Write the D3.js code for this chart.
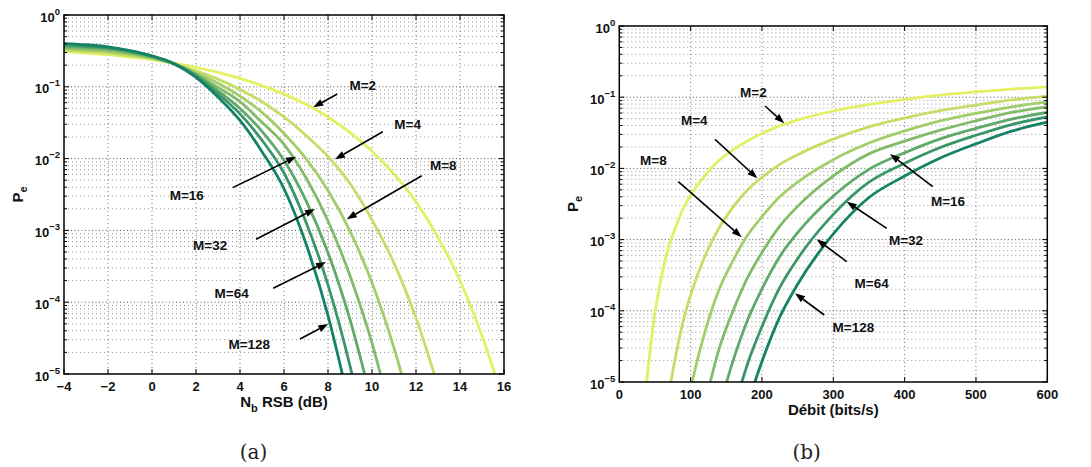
<!DOCTYPE html>
<html>
<head>
<meta charset="utf-8">
<script src="https://cdn.jsdelivr.net/npm/d3@7/dist/d3.min.js"></script>
<style>
body{margin:0;background:#fff;}
svg{display:block;}
</style>
</head>
<body>
<svg id="chart" width="1091" height="467"></svg>
<script>
// ---------------- data ----------------
const seriesNames = ["M=2","M=4","M=8","M=16","M=32","M=64","M=128"];
const seriesColors = ["#e4f064","#c4de68","#a3cd6a","#82bb6a","#5fa969","#3a9668","#138266"];

// (a) Pe vs Nb RSB (dB)
const snrDb = [-4,-3,-2,-1,0,1,2,3,4,5,6,7,8,9,10,11,12,13,14,15,16];
const snrPeM2   = [0.31,0.295,0.28,0.26,0.24,0.214,0.187,0.159,0.131,0.104,0.079,0.057,0.038,0.023,0.0127,0.0061,0.0025,8.0e-4,2.0e-4,3.4e-5,4.0e-6];
const snrPeM4   = [0.325,0.31,0.295,0.272,0.246,0.207,0.167,0.128,0.092,0.062,0.038,0.021,0.0107,0.0045,0.0014,3.5e-4,6.0e-5,6.8e-6];
const snrPeM8   = [0.34,0.325,0.31,0.285,0.252,0.209,0.157,0.112,0.074,0.044,0.0224,0.010,0.0036,9.8e-4,1.86e-4,2.3e-5,1.8e-6];
const snrPeM16  = [0.355,0.34,0.325,0.295,0.257,0.21,0.15,0.098,0.062,0.032,0.0158,0.0054,1.35e-3,2.34e-4,2.7e-5,1.8e-6];
const snrPeM32  = [0.37,0.355,0.34,0.305,0.262,0.211,0.146,0.088,0.05,0.024,0.0095,2.6e-3,4.9e-4,5.7e-5,3.9e-6];
const snrPeM64  = [0.385,0.37,0.35,0.313,0.266,0.21,0.142,0.08,0.042,0.018,0.0063,1.3e-3,1.74e-4,1.3e-5,5.5e-7];
const snrPeM128 = [0.40,0.385,0.36,0.32,0.27,0.21,0.135,0.072,0.034,0.0125,0.0038,6.5e-4,6.5e-5,3.4e-6];

// (b) Pe vs Débit (bits/s)
const bitRate = [30,40,50,60,70,80,90,100,120,140,160,180,200,225,250,300,350,400,450,500,550,600];
const ratePeM2   = [9e-7,1.45e-5,9.3e-5,3.3e-4,8.3e-4,1.6e-3,2.8e-3,4.2e-3,8.0e-3,0.013,0.0184,0.0245,0.031,0.0396,0.0478,0.064,0.0794,0.093,0.1066,0.1186,0.130,0.140];
const ratePeM4   = [null,null,null,1.6e-6,7.3e-6,2.6e-5,7.4e-5,1.67e-4,5.85e-4,1.47e-3,2.9e-3,5.0e-3,7.5e-3,0.0114,0.0156,0.0258,0.0384,0.051,0.0647,0.0776,0.0914,0.1035];
const ratePeM8   = [null,null,null,null,null,null,2.4e-6,7.9e-6,5.0e-5,2.0e-4,5.2e-4,1.16e-3,2.1e-3,4.0e-3,6.4e-3,0.01325,0.0227,0.0336,0.0466,0.0592,0.0731,0.0859];
const ratePeM16  = [null,null,null,null,null,null,null,null,4.9e-6,2.94e-5,1.03e-4,2.94e-4,6.6e-4,1.55e-3,2.93e-3,7.85e-3,0.016,0.0241,0.0344,0.0467,0.0611,0.0731];
const ratePeM32  = [null,null,null,null,null,null,null,null,null,4.3e-6,2.06e-5,7.5e-5,2.03e-4,5.8e-4,1.25e-3,4.1e-3,9.7e-3,0.01656,0.026,0.0365,0.0493,0.0612];
const ratePeM64  = [null,null,null,null,null,null,null,null,null,null,3.9e-6,1.82e-5,6.0e-5,2.13e-4,5.4e-4,2.26e-3,6.4e-3,0.0118,0.0197,0.0292,0.0413,0.053];
const ratePeM128 = [null,null,null,null,null,null,null,null,null,null,null,5.0e-6,1.94e-5,8.2e-5,2.36e-4,1.2e-3,3.9e-3,7.8e-3,0.014,0.0221,0.0333,0.0445];

// ticks
const snrTicks = [-4,-2,0,2,4,6,8,10,12,14,16];
const rateTicks = [0,100,200,300,400,500,600];
const peTicks = [1,0.1,0.01,1e-3,1e-4,1e-5];
const peExponents = ["0","\u22121","\u22122","\u22123","\u22124","\u22125"];

// annotations (label anchor, arrow tail, arrow tip) in data units
const annotSnrText = [[9.58,0.1026],[11.62,0.0303],[13.24,0.00814],[1.58,0.00311],[2.64,6.07e-4],[3.62,1.33e-4],[4.42,2.54e-5]];
const annotSnrTail = [[8.42,0.0794],[10.49,0.0237],[12.26,0.00578],[3.67,0.00394],[4.73,7.52e-4],[5.51,1.56e-4],[6.73,3.07e-5]];
const annotSnrTip  = [[7.33,0.0518],[8.32,0.00977],[8.85,0.00143],[6.55,0.01062],[7.41,1.99e-3],[7.91,3.63e-4],[8.01,4.97e-5]];
const annotRateText = [[187.9,0.1156],[105.1,0.0468],[47.7,0.0131],[460.8,0.00348],[401.9,9.66e-4],[353.8,2.43e-4],[328.1,5.86e-5]];
const annotRateTail = [[204.3,0.0752],[134.2,0.0256],[82.7,0.0065],[439.4,0.00553],[374.9,1.44e-3],[318.8,4.90e-4],[287.4,8.73e-5]];
const annotRateTip  = [[231.3,0.0430],[193.5,0.00726],[171.6,0.00108],[379.5,0.0159],[318.8,3.40e-3],[276.7,1.01e-3],[246.3,1.76e-4]];

// ---------------- drawing ----------------
const SANS = "'Liberation Sans', Arial, Helvetica, sans-serif";
const SERIF = "'DejaVu Serif', 'Liberation Serif', serif";
const svg = d3.select("#chart");
svg.append("rect").attr("width",1091).attr("height",467).attr("fill","#fff");

function drawPanel(o){
  const g = svg.append("g").style("font-family",SANS);
  const x = o.x, y = o.y;
  const [x0,x1] = x.range(); const [y1,y0] = y.range();
  const clipId = o.id + "clip";
  g.append("clipPath").attr("id",clipId).append("rect")
    .attr("x",x0).attr("y",y0).attr("width",x1-x0).attr("height",y1-y0);

  const minor = [];
  for (let e=-5; e<0; e++) for (let k=2;k<=9;k++) minor.push(k*Math.pow(10,e));

  // grid
  const grid = g.append("g");
  minor.forEach(v=>{
    grid.append("line").attr("x1",x0).attr("x2",x1).attr("y1",y(v)).attr("y2",y(v))
      .attr("stroke","#8a8a8a").attr("stroke-width",0.9).attr("stroke-dasharray","1,3");
  });
  peTicks.forEach(v=>{
    if (v===1 || v===1e-5) return;
    grid.append("line").attr("x1",x0).attr("x2",x1).attr("y1",y(v)).attr("y2",y(v))
      .attr("stroke","#555").attr("stroke-width",1).attr("stroke-dasharray","1,2.5");
  });
  o.xTicks.forEach(v=>{
    const px = x(v);
    if (Math.abs(px-x0)<1 || Math.abs(px-x1)<1) return;
    grid.append("line").attr("x1",px).attr("x2",px).attr("y1",y0).attr("y2",y1)
      .attr("stroke","#777").attr("stroke-width",1).attr("stroke-dasharray","1,3");
  });

  // curves
  const line = d3.line().x(d=>x(d[0])).y(d=>y(d[1])).curve(d3.curveMonotoneX);
  const cg = g.append("g").attr("clip-path",`url(#${clipId})`);
  o.series.forEach((vals,i)=>{
    const pts = o.xs.map((xv,j)=>[xv, j<vals.length ? vals[j] : null]).filter(d=>d[1]!=null);
    cg.append("path").datum(pts).attr("d",line).attr("fill","none")
      .attr("stroke",seriesColors[i]).attr("stroke-width",2.8).attr("stroke-linejoin","round");
  });

  // ticks inside, all four sides
  const tk = g.append("g").attr("stroke","#000").attr("stroke-width",1);
  o.xTicks.forEach(v=>{
    const px=x(v);
    tk.append("line").attr("x1",px).attr("x2",px).attr("y1",y1).attr("y2",y1-5);
    tk.append("line").attr("x1",px).attr("x2",px).attr("y1",y0).attr("y2",y0+5);
  });
  peTicks.forEach(v=>{
    const py=y(v);
    tk.append("line").attr("x1",x0).attr("x2",x0+5).attr("y1",py).attr("y2",py);
    tk.append("line").attr("x1",x1).attr("x2",x1-5).attr("y1",py).attr("y2",py);
  });
  minor.forEach(v=>{
    const py=y(v);
    tk.append("line").attr("x1",x0).attr("x2",x0+3).attr("y1",py).attr("y2",py);
    tk.append("line").attr("x1",x1).attr("x2",x1-3).attr("y1",py).attr("y2",py);
  });

  // box
  g.append("rect").attr("x",x0).attr("y",y0).attr("width",x1-x0).attr("height",y1-y0)
    .attr("fill","none").attr("stroke","#000").attr("stroke-width",1.5);

  // tick labels
  o.xTicks.forEach(v=>{
    g.append("text").attr("x",x(v)).attr("y",y1+16.5).attr("text-anchor","middle")
      .attr("font-size",13).attr("font-weight","bold").attr("fill","#111")
      .text(String(v).replace("-","\u2212"));
  });
  peTicks.forEach((v,i)=>{
    const t = g.append("text").attr("x",x0-4).attr("y",y(v)+6.5).attr("text-anchor","end")
      .attr("font-size",13).attr("font-weight","bold").attr("fill","#111");
    t.append("tspan").text("10");
    t.append("tspan").attr("dy",-7).attr("font-size",9.5).text(peExponents[i]);
  });

  // x label
  const xl = g.append("text").attr("x",(x0+x1)/2).attr("y",y1+33).attr("text-anchor","middle")
    .attr("font-size",15).attr("font-weight","bold").attr("fill","#111");
  o.xLabel(xl);

  // y label
  const yl = g.append("text").attr("transform",`translate(${x0-41.5},${(y0+y1)/2}) rotate(-90)`)
    .attr("text-anchor","middle").attr("font-size",15).attr("font-weight","bold").attr("fill","#111");
  yl.append("tspan").text("P");
  yl.append("tspan").attr("dy",4).attr("font-size",11).text("e");

  // annotations
  const ag = g.append("g");
  o.annText.forEach((p,i)=>{
    ag.append("text").attr("x",x(p[0])).attr("y",y(p[1])).attr("text-anchor","middle")
      .attr("dominant-baseline","central").attr("font-size",13.5).attr("font-weight","bold")
      .attr("fill","#111").text(seriesNames[i]);
    const ax = x(o.annTail[i][0]), ay = y(o.annTail[i][1]);
    const bx = x(o.annTip[i][0]), by = y(o.annTip[i][1]);
    const ang = Math.atan2(by-ay, bx-ax);
    const L = 10, hw = 3.6;
    const cx = bx - L*Math.cos(ang), cy = by - L*Math.sin(ang);
    ag.append("line").attr("x1",ax).attr("y1",ay).attr("x2",cx).attr("y2",cy)
      .attr("stroke","#000").attr("stroke-width",1.6);
    const p1 = [cx + hw*Math.sin(ang), cy - hw*Math.cos(ang)];
    const p2 = [cx - hw*Math.sin(ang), cy + hw*Math.cos(ang)];
    ag.append("path").attr("d",`M${bx},${by}L${p1[0]},${p1[1]}L${p2[0]},${p2[1]}Z`).attr("fill","#000");
  });

  // caption
  svg.append("text").attr("x",o.capX).attr("y",o.capY).attr("text-anchor","middle")
    .attr("dominant-baseline","central").attr("font-size",20)
    .style("font-family",SERIF).attr("fill","#222").text(o.caption);
}

drawPanel({
  id:"a",
  x: d3.scaleLinear().domain([-4,16]).range([64,504]),
  y: d3.scaleLog().domain([1e-5,1]).range([374,15]),
  xTicks: snrTicks,
  xs: snrDb,
  series: [snrPeM2,snrPeM4,snrPeM8,snrPeM16,snrPeM32,snrPeM64,snrPeM128],
  xLabel: t=>{ t.append("tspan").text("N"); t.append("tspan").attr("dy",5).attr("font-size",11).text("b");
               t.append("tspan").attr("dy",-5).text(" RSB (dB)"); },
  annText: annotSnrText, annTail: annotSnrTail, annTip: annotSnrTip,
  caption:"(a)", capX:253.5, capY:452
});

drawPanel({
  id:"b",
  x: d3.scaleLinear().domain([0,600]).range([619.3,1047.3]),
  y: d3.scaleLog().domain([1e-5,1]).range([382,26]),
  xTicks: rateTicks,
  xs: bitRate,
  series: [ratePeM2,ratePeM4,ratePeM8,ratePeM16,ratePeM32,ratePeM64,ratePeM128],
  xLabel: t=>{ t.text("Débit (bits/s)"); },
  annText: annotRateText, annTail: annotRateTail, annTip: annotRateTip,
  caption:"(b)", capX:806.7, capY:451.5
});
</script>
</body>
</html>
